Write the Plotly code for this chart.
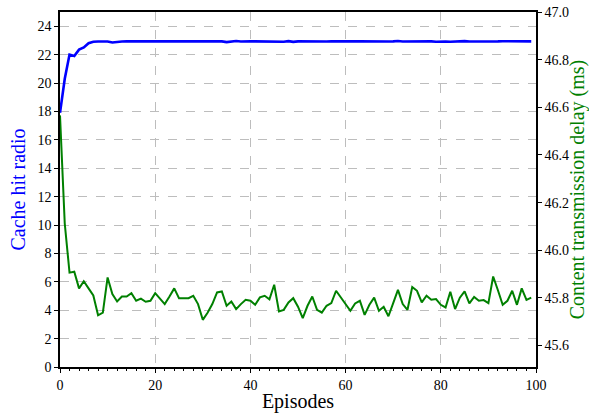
import plotly.graph_objects as go

episodes = list(range(100))

cache_hit = [17.9, 20.3, 22.0, 21.9, 22.35, 22.5, 22.8, 22.9, 22.92, 22.93,
             22.92, 22.85, 22.9, 22.92, 22.93, 22.93, 22.95, 22.93, 22.94, 22.92,
             22.93, 22.92, 22.94, 22.9, 22.93, 22.92, 22.93, 22.9, 22.93, 22.92,
             22.91, 22.93, 22.94, 22.92, 22.93, 22.88, 22.93, 22.96, 22.92, 22.95,
             22.94, 22.93, 22.92, 22.94, 22.93, 22.92, 22.93, 22.9, 22.95, 22.9,
             22.93, 22.92, 22.91, 22.9, 22.9, 22.91, 22.92, 22.93, 22.92, 22.93,
             22.93, 22.92, 22.93, 22.94, 22.93, 22.92, 22.93, 22.92, 22.94, 22.92,
             22.93, 22.96, 22.92, 22.93, 22.9, 22.91, 22.93, 22.92, 22.93, 22.91,
             22.93, 22.92, 22.9, 22.93, 22.93, 22.95, 22.92, 22.93, 22.9, 22.92,
             22.93, 22.92, 22.93, 22.94, 22.93, 22.92, 22.93, 22.94, 22.92, 22.93]

delay = [46.566, 46.112, 45.906, 45.91, 45.84, 45.87, 45.84, 45.81, 45.727, 45.738,
         45.886, 45.816, 45.785, 45.806, 45.806, 45.82, 45.788, 45.797, 45.784, 45.788,
         45.82, 45.797, 45.774, 45.806, 45.84, 45.799, 45.799, 45.799, 45.809, 45.774,
         45.708, 45.738, 45.774, 45.823, 45.827, 45.767, 45.785, 45.753, 45.774, 45.792,
         45.788, 45.771, 45.802, 45.809, 45.794, 45.855, 45.743, 45.75, 45.781, 45.799,
         45.763, 45.715, 45.767, 45.806, 45.75, 45.738, 45.767, 45.778, 45.83, 45.801,
         45.771, 45.746, 45.777, 45.788, 45.729, 45.771, 45.801, 45.746, 45.763, 45.723,
         45.778, 45.834, 45.774, 45.75, 45.846, 45.83, 45.781, 45.809, 45.792, 45.795,
         45.771, 45.76, 45.826, 45.753, 45.801, 45.827, 45.777, 45.804, 45.788, 45.791,
         45.778, 45.89, 45.832, 45.771, 45.788, 45.83, 45.771, 45.84, 45.792, 45.801]

left_ticks = list(range(0, 25, 2))
right_ticks = [45.6, 45.8, 46.0, 46.2, 46.4, 46.6, 46.8, 47.0]
x_ticks = [0, 20, 40, 60, 80, 100]

FONT = "Liberation Serif"
TICKFONT = dict(family=FONT, size=14, color="black")

fig = go.Figure()
fig.add_trace(go.Scatter(x=episodes, y=cache_hit, mode="lines",
                         line=dict(color="#0000ff", width=2.6), yaxis="y", showlegend=False))
fig.add_trace(go.Scatter(x=episodes, y=delay, mode="lines",
                         line=dict(color="#008000", width=2), yaxis="y2", showlegend=False))

fig.update_layout(
    width=589, height=415,
    margin=dict(l=60, r=53, t=12, b=48),
    paper_bgcolor="white", plot_bgcolor="white",
    font=dict(family=FONT, size=14, color="black"),
    xaxis=dict(
        range=[0, 100], tickvals=x_ticks, automargin=False, tickfont=TICKFONT,
        showline=True, linecolor="black", linewidth=1.5, mirror=True,
        ticks="outside", ticklen=4, tickcolor="black",
        showgrid=True, gridcolor="#bdbdbd", griddash="dash", gridwidth=1,
        zeroline=False,
        minor=dict(dtick=2, ticks="outside", ticklen=2, tickcolor="black", showgrid=False),
        title=dict(text="Episodes", font=dict(family=FONT, size=20, color="black"), standoff=2),
    ),
    yaxis=dict(
        range=[0, 25], tickvals=left_ticks, automargin=False, tickfont=TICKFONT,
        showline=True, linecolor="black", linewidth=1.5,
        ticks="outside", ticklen=4, tickcolor="black",
        showgrid=True, gridcolor="#bdbdbd", griddash="dash", gridwidth=1,
        zeroline=False,
        title=dict(text="Cache hit radio", font=dict(family=FONT, size=20, color="#0000ff"), standoff=6),
    ),
    yaxis2=dict(
        range=[45.51, 47.0], tickvals=right_ticks, tickformat=".1f", automargin=False,
        tickfont=TICKFONT,
        overlaying="y", side="right",
        showline=True, linecolor="black", linewidth=1.5,
        ticks="outside", ticklen=4, tickcolor="black",
        showgrid=False, zeroline=False,
        title=dict(text="Content transmission delay (ms)", font=dict(family=FONT, size=20, color="#008000"), standoff=6),
    ),
)

fig.write_html("out.html", config={"displayModeBar": False},
               post_script="document.body.style.margin='0';")
